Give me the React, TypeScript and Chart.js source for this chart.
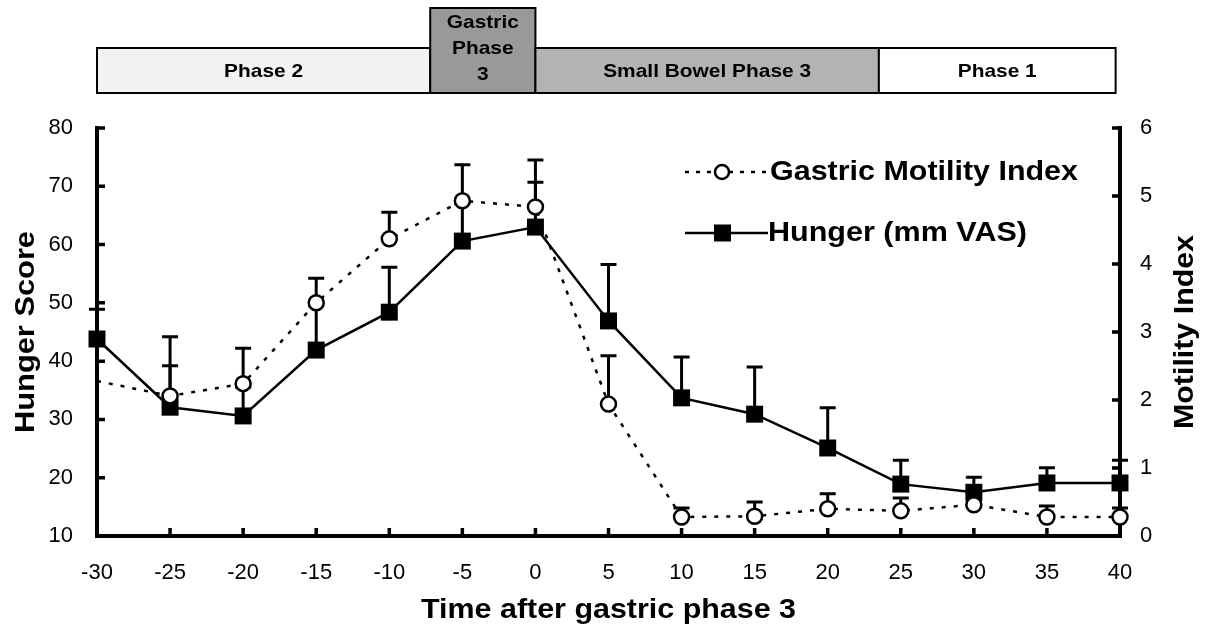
import React, { useEffect, useRef } from "react";
import { Chart, registerables } from "chart.js";
Chart.register(...registerables);

const timeMinutes = [-30, -25, -20, -15, -10, -5, 0, 5, 10, 15, 20, 25, 30, 35, 40];
const hungerScore = [43.8, 32.1, 30.6, 41.9, 48.4, 60.6, 63.0, 46.9, 33.7, 30.9, 25.1, 18.9, 17.5, 19.1, 19.1];
const hungerErrorTop = [48.9, 39.2, 35.5, 49.5, 56.1, 67.0, 70.7, 56.6, 40.7, 39.0, 32.0, 23.0, 20.1, 21.7, 23.0];
const motilityIndex = [2.28, 2.06, 2.24, 3.43, 4.37, 4.93, 4.84, 1.94, 0.28, 0.29, 0.4, 0.37, 0.46, 0.28, 0.28];
const motilityErrorTop: (number | null)[] = [null, 2.93, 2.76, 3.79, 4.76, 5.46, 5.53, 2.65, 0.41, 0.5, 0.62, 0.56, 0.5, 0.44, 0.41];
const motilityMarkerRadius = [0, 7.5, 7.5, 7.5, 7.5, 7.5, 7.5, 7.5, 7.5, 7.5, 7.5, 7.5, 7.5, 7.5, 7.5];

const phaseLabels = [["Phase 2"], ["Gastric", "Phase", "3"], ["Small Bowel Phase 3"], ["Phase 1"]];
const phaseBounds = [-30, -7.2, 0, 23.5, 39.7];
const phaseFills = ["#f2f2f2", "#999999", "#b3b3b3", "#ffffff"];

const legendLabels = ["Gastric Motility Index", "Hunger (mm VAS)"];
const xTitle = "Time after gastric phase 3";
const yTitle = "Hunger Score";
const y2Title = "Motility Index";

const FONT = "'Liberation Sans', Arial, Helvetica, sans-serif";

function drawText(
  ctx: CanvasRenderingContext2D,
  text: string,
  x: number,
  y: number,
  size: number,
  align: CanvasTextAlign,
  opts: { width?: number; stretch?: number; rotate?: number; bold?: boolean } = {}
) {
  ctx.save();
  ctx.font = `${opts.bold === false ? "" : "bold "}${size}px ${FONT}`;
  const w = ctx.measureText(text).width;
  const sx = opts.width ? opts.width / w : opts.stretch || 1;
  ctx.translate(x, y);
  if (opts.rotate) ctx.rotate(opts.rotate);
  ctx.scale(sx, 1);
  ctx.textAlign = align;
  ctx.textBaseline = "middle";
  ctx.fillStyle = "#000";
  ctx.fillText(text, 0, 0);
  ctx.restore();
}

const overlay = {
  id: "overlay",
  beforeDatasetsDraw(chart: any) {
    const ctx: CanvasRenderingContext2D = chart.ctx;
    const { left, right, top, bottom } = chart.chartArea;
    const xs = chart.scales.x;
    const ys = chart.scales.y;
    const y2 = chart.scales.y2;
    ctx.save();
    ctx.strokeStyle = "#000";
    ctx.lineWidth = 4;
    ctx.lineCap = "square";
    ctx.beginPath();
    ctx.moveTo(left, top);
    ctx.lineTo(left, bottom);
    ctx.lineTo(right, bottom);
    ctx.lineTo(right, top);
    ctx.stroke();
    ctx.lineCap = "butt";
    ctx.lineWidth = 3.5;
    ctx.beginPath();
    for (let v = 20; v <= 80; v += 10) {
      const p = ys.getPixelForValue(v);
      ctx.moveTo(left, p);
      ctx.lineTo(left + 8, p);
    }
    for (let v = 1; v <= 6; v += 1) {
      const p = y2.getPixelForValue(v);
      ctx.moveTo(right, p);
      ctx.lineTo(right - 8, p);
    }
    for (let v = -25; v <= 35; v += 5) {
      const p = xs.getPixelForValue(v);
      ctx.moveTo(p, bottom);
      ctx.lineTo(p, bottom - 8);
    }
    ctx.stroke();
    ctx.lineWidth = 3;
    const sets: [any, number[], (number | null)[]][] = [
      [ys, hungerScore, hungerErrorTop],
      [y2, motilityIndex, motilityErrorTop],
    ];
    for (const [sc, mean, upper] of sets) {
      timeMinutes.forEach((t, i) => {
        const u = upper[i];
        if (u == null) return;
        const px = xs.getPixelForValue(t);
        const p0 = sc.getPixelForValue(mean[i]);
        const p1 = sc.getPixelForValue(u);
        ctx.beginPath();
        ctx.moveTo(px, p0);
        ctx.lineTo(px, p1);
        ctx.moveTo(px - 8, p1);
        ctx.lineTo(px + 8, p1);
        ctx.stroke();
      });
    }
    ctx.restore();
  },
  afterDraw(chart: any) {
    const ctx: CanvasRenderingContext2D = chart.ctx;
    const xs = chart.scales.x;
    const { left, right, top, bottom } = chart.chartArea;
    ctx.save();
    const barTop = 48;
    const barBottom = 93;
    const gastricTop = 8;
    for (let i = 0; i < phaseLabels.length; i++) {
      const x0 = xs.getPixelForValue(phaseBounds[i]);
      const x1 = xs.getPixelForValue(phaseBounds[i + 1]);
      const t = phaseLabels[i].length > 1 ? gastricTop : barTop;
      ctx.fillStyle = phaseFills[i];
      ctx.fillRect(x0, t, x1 - x0, barBottom - t);
      ctx.strokeStyle = "#000";
      ctx.lineWidth = 2;
      ctx.strokeRect(x0, t, x1 - x0, barBottom - t);
      const cx = (x0 + x1) / 2;
      const lines = phaseLabels[i];
      if (lines.length === 1) {
        drawText(ctx, lines[0], cx, 72, 19, "center", { stretch: 1.1 });
      } else {
        lines.forEach((ln, k) => drawText(ctx, ln, cx, 23 + k * 26, 19, "center", { stretch: 1.1 }));
      }
    }
    const ly1 = 172;
    const ly2 = 233;
    ctx.strokeStyle = "#000";
    ctx.lineWidth = 2.5;
    ctx.setLineDash([4, 7]);
    ctx.beginPath();
    ctx.moveTo(685, ly1);
    ctx.lineTo(768, ly1);
    ctx.stroke();
    ctx.setLineDash([]);
    ctx.fillStyle = "#fff";
    ctx.lineWidth = 2.5;
    ctx.beginPath();
    ctx.arc(722, ly1, 7, 0, Math.PI * 2);
    ctx.fill();
    ctx.stroke();
    ctx.lineWidth = 2.5;
    ctx.beginPath();
    ctx.moveTo(685, ly2);
    ctx.lineTo(768, ly2);
    ctx.stroke();
    ctx.fillStyle = "#000";
    ctx.fillRect(714, ly2 - 8.5, 17, 17);
    drawText(ctx, legendLabels[0], 770, ly1, 28, "left", { width: 308 });
    drawText(ctx, legendLabels[1], 768, ly2, 28, "left", { width: 259 });
    drawText(ctx, xTitle, (left + right) / 2, 610, 28, "center", { width: 375 });
    drawText(ctx, yTitle, 26, (top + bottom) / 2, 28, "center", { width: 202, rotate: -Math.PI / 2 });
    drawText(ctx, y2Title, 1185, (top + bottom) / 2, 28, "center", { width: 194, rotate: -Math.PI / 2 });
    ctx.restore();
  },
};

export default function App() {
  const ref = useRef<HTMLCanvasElement>(null);
  useEffect(() => {
    if (!ref.current) return;
    const tickFont = { family: FONT, size: 22 };
    const chart = new Chart(ref.current, {
      type: "line",
      data: {
        datasets: [
          {
            label: legendLabels[0],
            data: timeMinutes.map((t, i) => ({ x: t, y: motilityIndex[i] })),
            yAxisID: "y2",
            borderColor: "#000",
            borderWidth: 2.5,
            borderDash: [4, 8],
            pointStyle: "circle",
            pointRadius: motilityMarkerRadius,
            pointBackgroundColor: "#fff",
            pointBorderColor: "#000",
            pointBorderWidth: 2.5,
            tension: 0,
            clip: false,
          },
          {
            label: legendLabels[1],
            data: timeMinutes.map((t, i) => ({ x: t, y: hungerScore[i] })),
            yAxisID: "y",
            borderColor: "#000",
            borderWidth: 2.5,
            pointStyle: "rect",
            pointRadius: 12,
            pointBackgroundColor: "#000",
            pointBorderColor: "#000",
            pointBorderWidth: 0,
            tension: 0,
            clip: false,
          },
        ],
      },
      options: {
        animation: false,
        responsive: true,
        maintainAspectRatio: false,
        layout: { padding: { left: 0, top: 128, right: 0, bottom: 0 } },
        plugins: { legend: { display: false }, tooltip: { enabled: false } },
        scales: {
          x: {
            type: "linear",
            min: -30,
            max: 40,
            position: "bottom",
            ticks: { stepSize: 5, color: "#000", font: tickFont, padding: 24, maxRotation: 0, autoSkip: false },
            grid: { display: false, drawTicks: false },
            border: { display: false },
            afterFit: (s: any) => {
              s.height = 92;
            },
          },
          y: {
            type: "linear",
            position: "left",
            min: 10,
            max: 80,
            ticks: { stepSize: 10, color: "#000", font: tickFont, padding: 24 },
            grid: { display: false, drawTicks: false },
            border: { display: false },
            afterFit: (s: any) => {
              s.width = 97;
            },
          },
          y2: {
            type: "linear",
            position: "right",
            min: 0,
            max: 6,
            ticks: { stepSize: 1, color: "#000", font: tickFont, padding: 20 },
            grid: { display: false, drawTicks: false },
            border: { display: false },
            afterFit: (s: any) => {
              s.width = 87;
            },
          },
        },
      },
      plugins: [overlay],
    });
    return () => chart.destroy();
  }, []);
  return (
    <div style={{ position: "fixed", left: 0, top: 0, width: 1207, height: 628, background: "#fff" }}>
      <canvas ref={ref} />
    </div>
  );
}
